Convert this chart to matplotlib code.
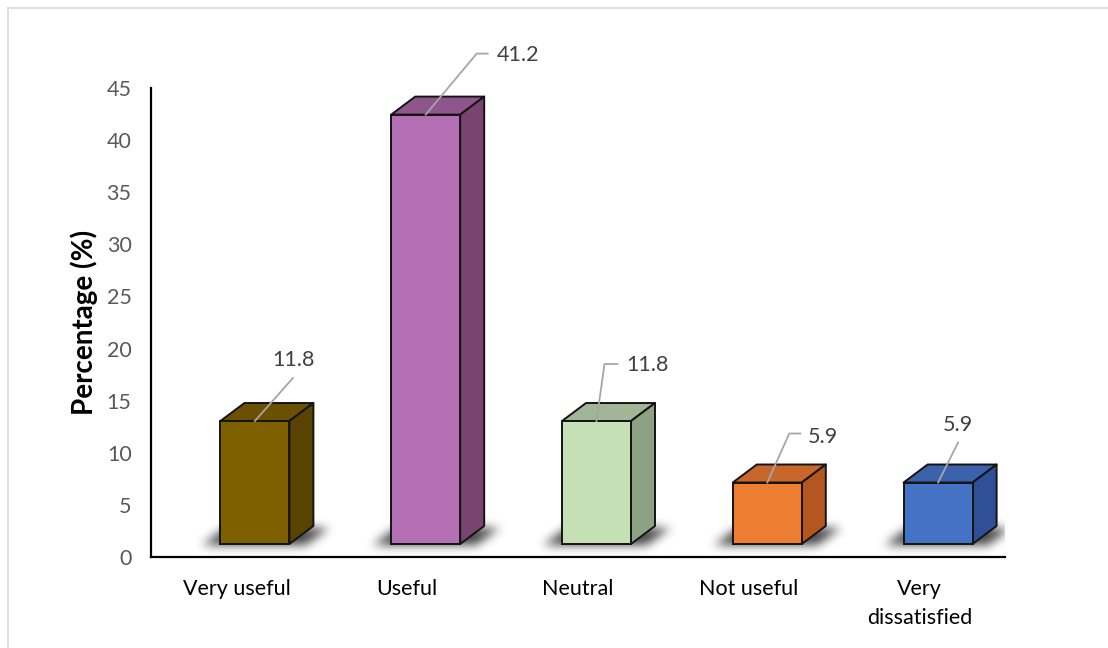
import numpy as np
import matplotlib
matplotlib.use("Agg")
import matplotlib.pyplot as plt
from matplotlib.patches import Polygon
from matplotlib.lines import Line2D

# ---- data ----
categories = ["Very useful", "Useful", "Neutral", "Not useful", "Very\ndissatisfied"]
values = [11.8, 41.2, 11.8, 5.9, 5.9]
value_labels = ["11.8", "41.2", "11.8", "5.9", "5.9"]
front_colors = ["#7f6000", "#b56fb3", "#c5e0b4", "#ed7d31", "#4472c4"]
top_colors = ["#6a5000", "#8e568c", "#a2b596", "#c8662c", "#3b62ab"]
side_colors = ["#584300", "#77456f", "#8da183", "#b4561f", "#2f4f96"]
y_ticks = [0, 5, 10, 15, 20, 25, 30, 35, 40, 45]

# label leader geometry in pixels relative to the top-front anchor:
# (elbow dx, elbow dy, horizontal run, text dx, text dy, text alignment)
leaders = [
    (38, 43, 0, 39, 61, "center"),
    (51, 61, 11, 71, 60, "left"),
    (8, 57, 13, 30, 56, "left"),
    (22, 49, 11, 40, 46, "left"),
    (20, 40, 0, 20, 58, "center"),
]

W, H, DPI = 1108, 648, 100
fig = plt.figure(figsize=(W / DPI, H / DPI), dpi=DPI)
fig.patch.set_facecolor("white")

ax_l, ax_r, ax_t, ax_b = 151, 1005, 88, 557
ax = fig.add_axes([ax_l / W, (H - ax_b) / H, (ax_r - ax_l) / W, (ax_b - ax_t) / H])
ax.set_xlim(-0.5, 4.5)
ax.set_ylim(0, 45)

px_x = (ax_r - ax_l) / 5.0      # pixels per x unit
px_y = (ax_b - ax_t) / 45.0     # pixels per y unit

front_off = -16 / px_x
front_w = 69 / px_x
depth_x = 24 / px_x
depth_y = 18 / px_y
base = 13 / px_y

x = np.arange(len(values))
fl = x + front_off
fr = fl + front_w

# soft floor shadows as a blurred raster beneath the boxes
nx, ny = ax_r - ax_l, ax_b - ax_t
gx = np.linspace(-0.5, 4.5, nx)
gy = np.linspace(45, 0, ny)
XX, YY = np.meshgrid(gx, gy)
mask = np.zeros((ny, nx))
for i in range(len(values)):
    # footprint parallelogram on the floor, extended slightly
    y0, y1 = base - 1 / px_y, base + depth_y - 2 / px_y
    t = (YY - y0) / (y1 - y0)
    inside_y = (t >= 0) & (t <= 1)
    left = fl[i] - 18 / px_x + t * depth_x
    right = fr[i] + 16 / px_x + t * depth_x
    inside = inside_y & (XX >= left) & (XX <= right)
    mask[inside] = 1.0


def blur(a, s):
    r = int(3 * s)
    k = np.exp(-0.5 * (np.arange(-r, r + 1) / s) ** 2)
    k /= k.sum()
    a = np.apply_along_axis(lambda m: np.convolve(m, k, mode="same"), 1, a)
    a = np.apply_along_axis(lambda m: np.convolve(m, k, mode="same"), 0, a)
    return a


sh = blur(mask, 5.0)
rgba = np.zeros((ny, nx, 4))
rgba[..., 3] = np.clip(sh * 0.75, 0, 1)
ax.imshow(rgba, extent=(-0.5, 4.5, 0, 45), aspect="auto", zorder=1,
          interpolation="bilinear")

edge = "#141414"
lw = 1.4
# front faces
ax.bar(fl, values, width=front_w, bottom=base, align="edge",
       color=front_colors, edgecolor=edge, linewidth=lw, zorder=4)
for i, v in enumerate(values):
    top = base + v
    # top face
    ax.add_patch(Polygon([(fl[i], top), (fr[i], top),
                          (fr[i] + depth_x, top + depth_y),
                          (fl[i] + depth_x, top + depth_y)], closed=True,
                         facecolor=top_colors[i], edgecolor=edge,
                         linewidth=lw, zorder=3, joinstyle="round"))
    # side face
    ax.add_patch(Polygon([(fr[i], base), (fr[i] + depth_x, base + depth_y),
                          (fr[i] + depth_x, top + depth_y), (fr[i], top)],
                         closed=True, facecolor=side_colors[i], edgecolor=edge,
                         linewidth=lw, zorder=3, joinstyle="round"))

# value labels with leader lines
for i, v in enumerate(values):
    ax0 = (fl[i] + fr[i]) / 2
    ay0 = base + v
    ex, ey, run, tx, ty, ha = leaders[i]
    xs = [ax0, ax0 + ex / px_x]
    ys = [ay0, ay0 + ey / px_y]
    if run:
        xs.append(ax0 + (ex + run) / px_x)
        ys.append(ay0 + ey / px_y)
    ax.plot(xs, ys, color="#a6a6a6", lw=1.3, zorder=5, clip_on=False)
    ax.text(ax0 + tx / px_x, ay0 + ty / px_y, value_labels[i], ha=ha,
            va="center", fontsize=15.5, color="#404040", family="Lato",
            zorder=6, clip_on=False)

# axes styling
for s in ["top", "right"]:
    ax.spines[s].set_visible(False)
for s in ["left", "bottom"]:
    ax.spines[s].set_color("#000000")
    ax.spines[s].set_linewidth(1.6)
ax.set_yticks(y_ticks)
ax.set_yticklabels([str(t) for t in y_ticks], family="Lato", fontsize=15.5,
                   color="#595959")
ax.set_xticks(x)
ax.set_xticklabels(categories, family="Lato", fontsize=15.5, color="#000000",
                   linespacing=1.55)
ax.tick_params(axis="both", length=0)
ax.tick_params(axis="y", pad=14)
ax.tick_params(axis="x", pad=16)
for lab in ax.get_xticklabels():
    lab.set_verticalalignment("top")
ax.set_ylabel("Percentage (%)", family="Lato", fontsize=20, fontweight="bold",
              color="#000000", labelpad=6)
ax.patch.set_alpha(0)

# light chart-area frame
fig.add_artist(Line2D([7.5 / W, 7.5 / W], [0, 1 - 7.5 / H], color="#d9d9d9",
                      lw=1.2, transform=fig.transFigure))
fig.add_artist(Line2D([7.5 / W, 1], [1 - 7.5 / H, 1 - 7.5 / H],
                      color="#d9d9d9", lw=1.2, transform=fig.transFigure))

fig.savefig("out.png", dpi=DPI)
